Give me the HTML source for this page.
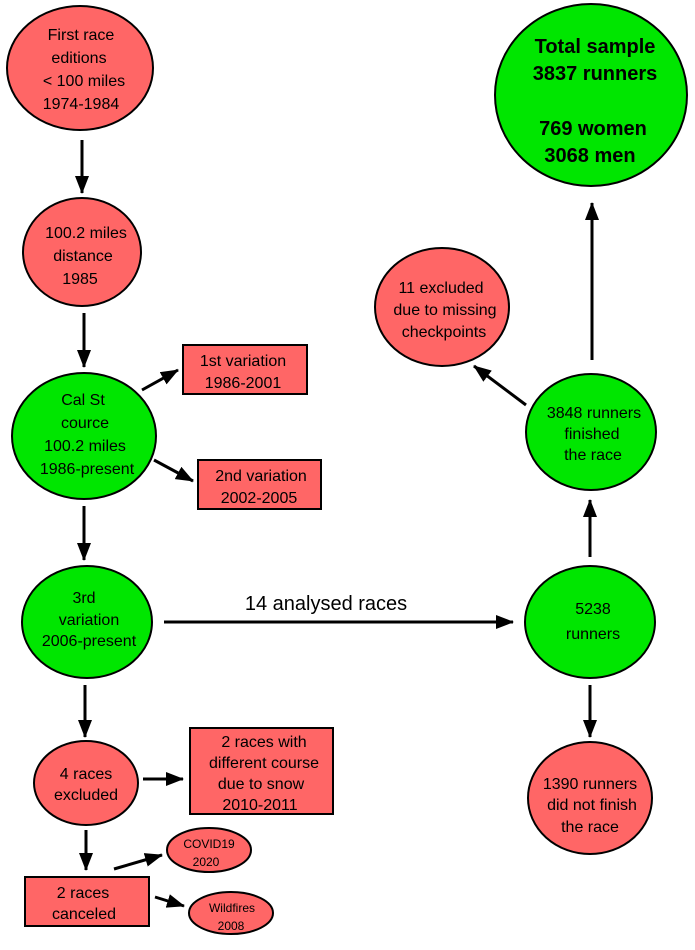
<!DOCTYPE html>
<html><head><meta charset="utf-8"><style>html,body{margin:0;padding:0;background:#fff}</style></head>
<body>
<svg width="695" height="945" viewBox="0 0 695 945" xmlns="http://www.w3.org/2000/svg" font-family="Liberation Sans, sans-serif">
<defs><marker id="a" markerWidth="10" markerHeight="10" refX="9" refY="5" orient="auto" markerUnits="userSpaceOnUse"><path d="M0,0 L10,5 L0,10 z" fill="#000"/></marker>
<marker id="b" markerWidth="18" markerHeight="14" refX="17" refY="7" orient="auto" markerUnits="userSpaceOnUse"><path d="M0,0 L18,7 L0,14 z" fill="#000"/></marker></defs>
<g stroke="#000" stroke-width="2">
<ellipse cx="80" cy="68" rx="73" ry="62" fill="#ff6666"/>
<ellipse cx="82" cy="252" rx="59" ry="54" fill="#ff6666"/>
<ellipse cx="84" cy="436" rx="72" ry="63" fill="#00e600"/>
<rect x="183" y="345" width="124" height="49" fill="#ff6666"/>
<rect x="198" y="460" width="123" height="49" fill="#ff6666"/>
<ellipse cx="87" cy="622" rx="65" ry="56" fill="#00e600"/>
<ellipse cx="86" cy="783" rx="52" ry="42" fill="#ff6666"/>
<rect x="190" y="728" width="143" height="86" fill="#ff6666"/>
<rect x="25" y="877" width="124" height="49" fill="#ff6666"/>
<ellipse cx="209" cy="850" rx="42" ry="22" fill="#ff6666"/>
<ellipse cx="231" cy="913" rx="42" ry="21" fill="#ff6666"/>
<ellipse cx="591" cy="95" rx="96" ry="91" fill="#00e600"/>
<ellipse cx="442" cy="307" rx="67" ry="59" fill="#ff6666"/>
<ellipse cx="591" cy="432" rx="65" ry="58" fill="#00e600"/>
<ellipse cx="590" cy="622" rx="65" ry="56" fill="#00e600"/>
<ellipse cx="590" cy="798" rx="62" ry="56" fill="#ff6666"/>
</g>
<g stroke="#000" stroke-width="3" fill="none" marker-end="url(#b)">
<line x1="82" y1="140" x2="82" y2="193"/>
<line x1="84" y1="313" x2="84" y2="367"/>
<line x1="142" y1="390" x2="178" y2="370"/>
<line x1="154" y1="460" x2="193" y2="481"/>
<line x1="84" y1="506" x2="84" y2="560"/>
<line x1="164" y1="622" x2="513" y2="622"/>
<line x1="85" y1="685" x2="85" y2="737"/>
<line x1="143" y1="779" x2="183" y2="779"/>
<line x1="86" y1="830" x2="86" y2="870"/>
<line x1="114" y1="869" x2="162" y2="855"/>
<line x1="155" y1="897" x2="184" y2="906"/>
<line x1="592" y1="360" x2="592" y2="203"/>
<line x1="526" y1="405" x2="474" y2="366"/>
<line x1="590" y1="557" x2="590" y2="500"/>
<line x1="590" y1="685" x2="590" y2="737"/>
</g>
<g font-size="16" text-anchor="middle" fill="#000">
<text x="81" y="40">First race</text><text x="79" y="63">editions</text><text x="84" y="86">&lt; 100 miles</text><text x="81" y="109">1974-1984</text>
<text x="86" y="238">100.2 miles</text><text x="83" y="261">distance</text><text x="80" y="284">1985</text>
<text x="83" y="405">Cal St</text><text x="85" y="428">cource</text><text x="85" y="451">100.2 miles</text><text x="87" y="474">1986-present</text>
<text x="243" y="366">1st variation</text><text x="243" y="388">1986-2001</text>
<text x="261" y="481">2nd variation</text><text x="259" y="503">2002-2005</text>
<text x="84" y="603">3rd</text><text x="89" y="625">variation</text><text x="89" y="646">2006-present</text>
<text x="86" y="779">4 races</text><text x="86" y="800">excluded</text>
<text x="264" y="747">2 races with</text><text x="264" y="768">different course</text><text x="261" y="789">due to snow</text><text x="260" y="810">2010-2011</text>
<text x="83" y="898">2 races</text><text x="84" y="919">canceled</text>
<text x="441" y="293">11 excluded</text><text x="445" y="315">due to missing</text><text x="444" y="337">checkpoints</text>
<text x="594" y="418">3848 runners</text><text x="592" y="439">finished</text><text x="593" y="460">the race</text>
<text x="593" y="614">5238</text><text x="593" y="639">runners</text>
<text x="590" y="789">1390 runners</text><text x="592" y="810">did not finish</text><text x="590" y="832">the race</text>
</g>
<g font-size="12" text-anchor="middle"><text x="209" y="848">COVID19</text><text x="206" y="866">2020</text>
<text x="232" y="912">Wildfires</text><text x="231" y="930">2008</text></g>
<text x="326" y="610" font-size="20" text-anchor="middle">14 analysed races</text>
<g font-size="20" font-weight="bold" text-anchor="middle"><text x="595" y="53">Total sample</text><text x="595" y="80">3837 runners</text><text x="593" y="135">769 women</text><text x="590" y="162">3068 men</text></g>
</svg>
</body></html>
